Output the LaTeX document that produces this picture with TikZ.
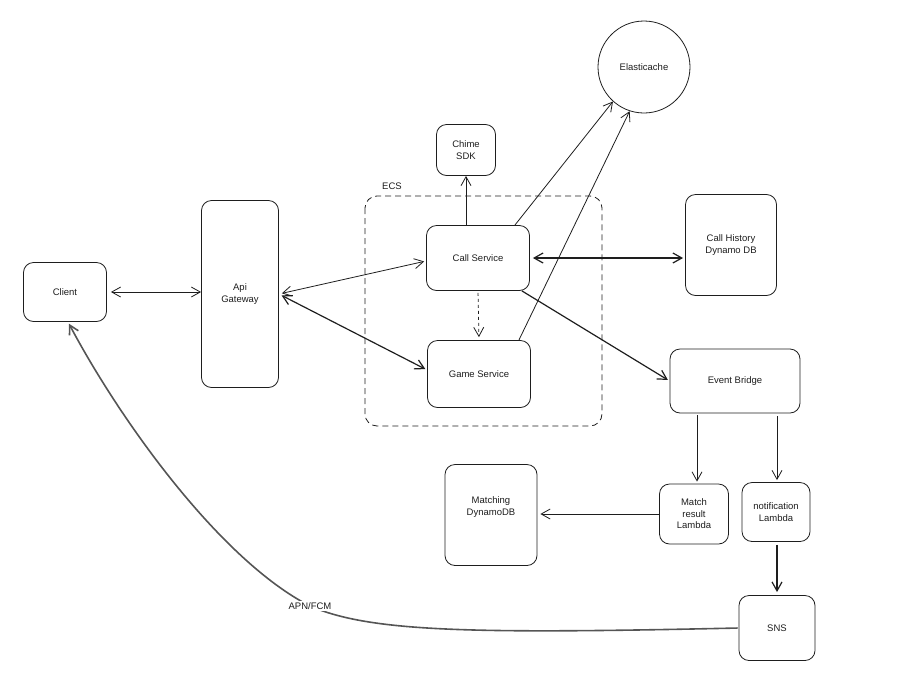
\documentclass[tikz,border=0pt]{standalone}
\usepackage{fontspec}
\setmainfont{Liberation Sans}
\usetikzlibrary{arrows.meta}

\definecolor{ink}{HTML}{1E1E1E}
\definecolor{pushgray}{HTML}{555555}

\begin{document}
\begin{tikzpicture}[x=1pt,y=-1pt,
		every node/.style={font=\fontsize{9.5}{11.5}\selectfont, text=ink},
		box/.style={draw=ink, line width=0.8pt, rounded corners=10pt, align=center},
		link/.style={draw=ink, line width=0.8pt, -{Straight Barb[length=9pt,width=10pt]}},
		both/.style={link, {Straight Barb[length=9pt,width=10pt]}-{Straight Barb[length=9pt,width=10pt]}},
		heavy/.style={line width=1.2pt},
		push/.style={draw=pushgray, line width=1.6pt, -{Straight Barb[length=9pt,width=10pt]}}]
			\useasboundingbox (0,0) rectangle (921,686);
			% ecs group
			\draw [ink, line width=0.8pt, dash pattern=on 6pt off 4pt, rounded corners=12pt] (365,196) rectangle (602,426);
			\node (ecslabel) at (392,186) {ECS};
			% services
			\node[box, minimum width=83pt, minimum height=59pt] (client) at (65,292) {Client};
			\node[box, minimum width=77pt, minimum height=187pt] (api) at (240,294) {Api\\Gateway};
			\node[box, minimum width=59pt, minimum height=51pt] (chime) at (466,150) {Chime\\SDK};
			\node[box, minimum width=103pt, minimum height=65pt] (call) at (478,258) {Call Service};
			\node[box, minimum width=103pt, minimum height=67pt] (game) at (479,374) {Game Service};
			\node[draw=ink, line width=0.8pt, circle, minimum size=92pt] (cache) at (644,67) {Elasticache};
			\node[box, minimum width=91pt, minimum height=101pt] (history) at (731,245) {Call History\\Dynamo DB};
			\node[box, minimum width=130pt, minimum height=64pt] (bridge) at (735,381) {Event Bridge};
			\node[box, minimum width=69pt, minimum height=60pt] (matchlambda) at (694,514) {Match\\result\\Lambda};
			\node[box, minimum width=68pt, minimum height=59pt] (notiflambda) at (776,512) {notification\\Lambda};
			\node[box, minimum width=92pt, minimum height=101pt] (matchdb) at (491,515) {Matching\\DynamoDB\\[6pt]};
			\node[box, minimum width=76pt, minimum height=65pt] (sns) at (777,628) {SNS};
			% connectors
			\draw [both, shorten <=4pt] (client.east) -- (client.east -| api.west);
			\draw [both, shorten <=3pt, shorten >=2pt] (api.east) -- ([yshift=-3pt]call.west);
			\draw [both, heavy, shorten <=3pt, shorten >=2pt] (api.east) -- ([yshift=4pt]game.west);
			\draw [link] (call.north -| chime.south) -- (chime.south);
			\draw [link, dashed, shorten <=2pt, shorten >=3pt] (call.south) -- (game.north);
			\draw [link] ([xshift=-15pt]call.north east) -- (cache.228);
			\draw [link] ([xshift=-12pt]game.north east) -- (cache.252);
			\draw [both, heavy, shorten <=3pt, shorten >=2pt] (call.east) -- (call.east -| history.west);
			\draw [link, heavy, shorten >=2pt] ([xshift=-8pt]call.south east) -- (bridge.west);
			\draw [link, shorten <=2pt, shorten >=2pt] ([xshift=3pt]matchlambda.north |- bridge.south) -- ([xshift=3pt]matchlambda.north);
			\draw [link, shorten <=3pt, shorten >=2pt] ([xshift=1pt]notiflambda.north |- bridge.south) -- ([xshift=1pt]notiflambda.north);
			\draw [link, shorten >=3pt] (matchlambda.west) -- (matchlambda.west -| matchdb.east);
			\draw [link, heavy, shorten <=3pt, shorten >=3pt] ([xshift=1pt]notiflambda.south) -- (sns.north);
			% push back to the client
			\draw [push, shorten <=1pt, shorten >=2pt] (sns.west) .. controls (470,634) and (370,632) .. (310,606)
				node[fill=white, inner sep=2pt] (apnlabel) {APN/FCM}
				.. controls (220,560) and (120,420) .. ([xshift=3pt]client.south);
		\end{tikzpicture}
\end{document}
